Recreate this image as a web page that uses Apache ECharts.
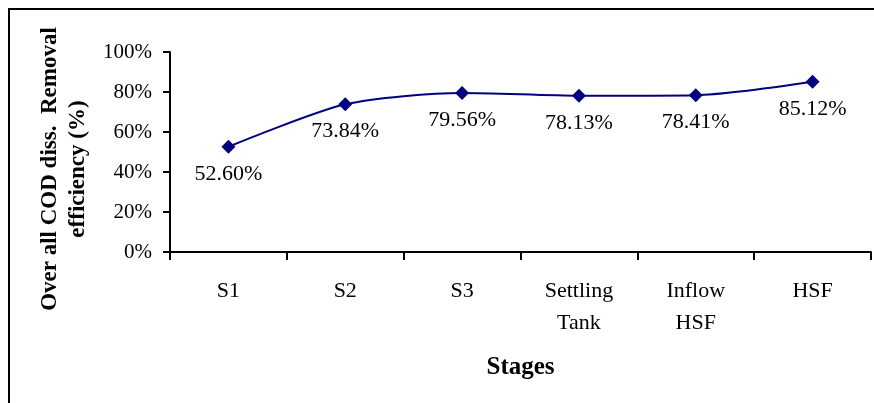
<!DOCTYPE html>
<html>
<head>
<meta charset="utf-8">
<script src="https://cdn.jsdelivr.net/npm/echarts@6/dist/echarts.min.js"></script>
<style>
html,body{margin:0;padding:0;background:#fff;}
#chart{width:874px;height:403px;}
</style>
</head>
<body>
<div id="chart"></div>
<script>
var categories = ['S1', 'S2', 'S3', 'Settling\nTank', 'Inflow\nHSF', 'HSF'];
var removalEfficiency = [52.60, 73.84, 79.56, 78.13, 78.41, 85.12];
var yTicks = [0, 20, 40, 60, 80, 100];

var FONT = '"Liberation Serif", "Times New Roman", serif';
var chart = echarts.init(document.getElementById('chart'), null, {renderer: 'canvas'});
chart.setOption({
  backgroundColor: '#ffffff',
  animation: false,
  graphic: [{
    type: 'rect',
    shape: {x: 9, y: 9, width: 1000, height: 600},
    style: {fill: 'none', stroke: '#000', lineWidth: 2},
    z: -1
  }],
  grid: {left: 170, right: 3, top: 52, bottom: 151, containLabel: false, outerBoundsMode: 'none'},
  xAxis: {
    type: 'category',
    data: categories,
    boundaryGap: true,
    name: 'Stages',
    nameLocation: 'middle',
    nameGap: 103,
    nameTextStyle: {fontFamily: FONT, fontSize: 25, fontWeight: 'bold', color: '#000'},
    axisLine: {lineStyle: {color: '#000', width: 2}},
    axisTick: {show: true, length: 8, alignWithLabel: false, lineStyle: {color: '#000', width: 2}},
    axisLabel: {fontFamily: FONT, fontSize: 22, color: '#000', margin: 23, lineHeight: 32, interval: 0}
  },
  yAxis: {
    type: 'value',
    min: yTicks[0],
    max: yTicks[yTicks.length - 1],
    interval: yTicks[1] - yTicks[0],
    name: 'Over all COD diss.  Removal\nefficiency (%)',
    nameLocation: 'middle',
    nameGap: 78,
    nameTextStyle: {fontFamily: FONT, fontSize: 23, fontWeight: 'bold', color: '#000', lineHeight: 28, padding: [0, 34, 0, 0]},
    axisLine: {show: true, lineStyle: {color: '#000', width: 2}},
    axisTick: {show: true, length: 7, lineStyle: {color: '#000', width: 2}},
    splitLine: {show: false},
    axisLabel: {fontFamily: FONT, fontSize: 21, color: '#000', margin: 18, formatter: '{value}%'}
  },
  series: [{
    type: 'line',
    data: removalEfficiency,
    smooth: 0.25,
    symbol: 'diamond',
    symbolSize: 14,
    lineStyle: {color: '#000080', width: 2},
    itemStyle: {color: '#000080'},
    label: {
      show: true,
      position: 'bottom',
      distance: 9,
      fontFamily: FONT,
      fontSize: 22,
      color: '#000',
      formatter: function (p) { return p.value.toFixed(2) + '%'; }
    }
  }]
});
</script>
</body>
</html>
